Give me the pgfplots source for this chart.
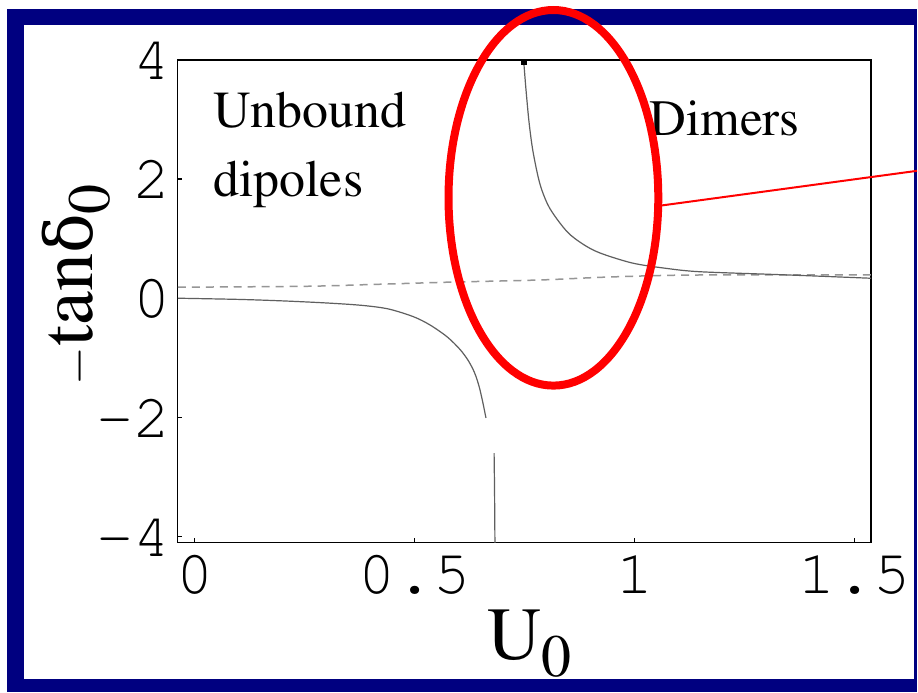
\documentclass[border=0pt]{standalone}
\usepackage{fontspec}
\newfontfamily\greekserif{DejaVu Serif}
\usepackage{pgfplots}
\pgfplotsset{compat=1.18}
\definecolor{framenavy}{RGB}{0,0,128}
\definecolor{curvegray}{RGB}{95,95,95}
\definecolor{dashgray}{RGB}{150,150,150}
% Times-like text and Courier-like numbers (Type 1 URW fonts)
\newcommand{\timesfont}{\fontencoding{T1}\fontfamily{ptm}\selectfont}
\newcommand{\courfont}{\fontencoding{T1}\fontfamily{pcr}\selectfont}

\begin{document}
\begin{tikzpicture}
% slide frame (units of half a point, y pointing down)
\begin{scope}[x=0.5pt,y=-0.5pt]
  \fill[white] (0,0) rectangle (918,693);
  \fill[framenavy] (7,9) rectangle (918,693);
  \fill[white] (24,25) rectangle (915,680);
\end{scope}

\begin{axis}[
  at={(89pt,-271.5pt)}, anchor=south west,
  scale only axis, width=347pt, height=241.5pt,
  xmin=-0.0385, xmax=1.5374, ymin=-4.1, ymax=4.0,
  axis line style={black, line width=0.6pt},
  tick style={black, line width=0.6pt},
  tick align=inside, major tick length=2pt,
  xtick pos=bottom, ytick pos=left,
  xtick={0,0.5,1,1.5}, xticklabels={0,0.5,1,1.5},
  ytick={-4,-2,0,2,4}, yticklabels={-4,-2,0,2,4},
  xticklabel style={font=\courfont\fontsize{31}{31}\selectfont, inner sep=0pt, anchor=north, yshift=-5.5pt},
  yticklabel style={font=\courfont\fontsize{31}{31}\selectfont, inner sep=0pt, anchor=east, xshift=-3.25pt},
  clip mode=individual,
]
% weak-coupling reference (dashed)
\addplot[dashgray, line width=0.75pt, dash pattern=on 4pt off 3pt, smooth] coordinates {
  (-0.0385,0.185) (0.25,0.20) (0.40,0.23) (0.58,0.27) (0.70,0.29)
  (0.80,0.31) (0.92,0.35) (1.05,0.38) (1.15,0.39) (1.30,0.39) (1.5374,0.39)
};
% -tan(delta_0), branch below the resonance
\addplot[curvegray, line width=0.6pt, smooth, tension=0.5] coordinates {
  (-0.0385,0.0) (0.10,-0.02) (0.20,-0.045) (0.30,-0.08) (0.38,-0.12)
  (0.44,-0.18) (0.497,-0.31) (0.535,-0.45) (0.574,-0.65) (0.603,-0.86)
  (0.622,-1.05) (0.636,-1.25) (0.646,-1.47) (0.654,-1.72) (0.662,-2.01)
};
\addplot[curvegray, line width=0.6pt] coordinates {
  (0.6805,-2.6) (0.6815,-3.2) (0.6825,-4.2)
};
% branch above the resonance
\addplot[curvegray, line width=0.6pt, smooth, tension=0.5] coordinates {
  (0.748,3.96) (0.753,3.5) (0.760,2.95) (0.769,2.46)
  (0.785,1.91) (0.807,1.51) (0.846,1.12) (0.882,0.91) (0.921,0.76)
  (0.995,0.59) (1.073,0.50) (1.147,0.445) (1.313,0.40) (1.42,0.37)
  (1.5374,0.335)
};
\addplot[only marks, mark=square*, mark size=1.2pt, black] coordinates {(0.748,3.96)};
\end{axis}

\begin{scope}[x=0.5pt,y=-0.5pt]
  \node[anchor=base west, inner sep=0pt, font=\timesfont\fontsize{26}{26}\selectfont] at (213,128) {Unbound};
  \node[anchor=base west, inner sep=0pt, font=\timesfont\fontsize{26}{26}\selectfont] at (213,197) {dipoles};
  \node[anchor=base west, inner sep=0pt, font=\timesfont\fontsize{25.5}{25.5}\selectfont] at (650,136) {Dimers};
  \node[anchor=base west, inner sep=0pt, font=\timesfont\fontsize{37.5}{37.5}\selectfont] at (488,660)
    {U\raisebox{-8.5pt}{\fontsize{30}{30}\selectfont 0}};
  \node[rotate=90, anchor=base, inner sep=0pt, font=\timesfont\fontsize{38}{38}\selectfont] at (93,285)
    {$-$tan{\greekserif\fontsize{33}{33}\selectfont δ}\raisebox{-8.5pt}{\fontsize{30}{30}\selectfont 0}};
  % highlight of the resonance region
  \draw[red, line width=4pt] (554,198) ellipse [x radius=105, y radius=188];
  \draw[red, line width=1pt] (660,206) -- (918,171);
\end{scope}
\end{tikzpicture}
\end{document}
